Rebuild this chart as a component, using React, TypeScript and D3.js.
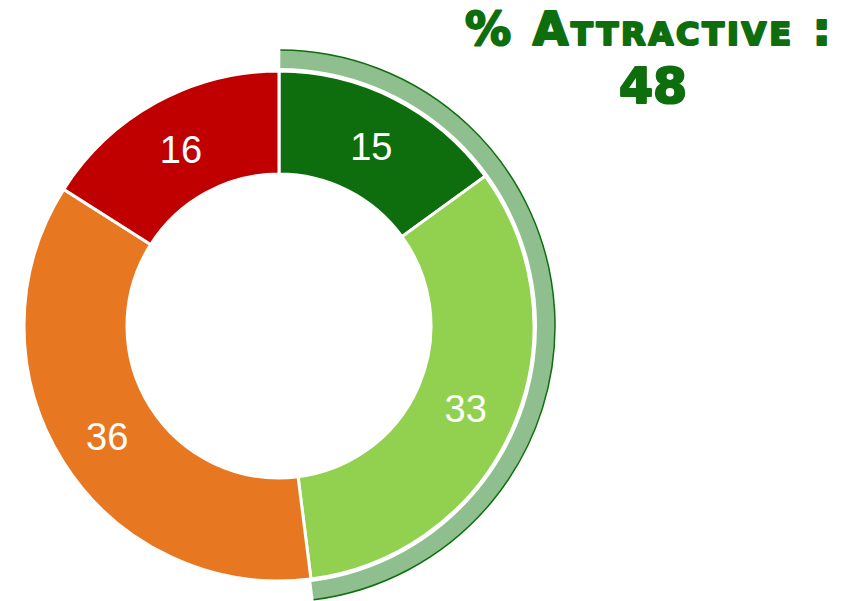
import * as d3 from "d3";

const categories = ["Very attractive", "Attractive", "Neutral", "Unattractive"];
const values = [15, 33, 36, 16];
const colors = ["#0e6e0e", "#92d050", "#e87722", "#c00000"];
const highlightCount = 2; // first two slices form "% Attractive"
const titleLine1 = "% Attractive :";

const W = 864;
const H = 601;
const cx = 279;
const cy = 326;
const rInner = 152;
const rOuter = 255;

function App() {
  const pie = d3
    .pie<number>()
    .sort(null)
    .value((d) => d);
  const arcs = pie(values);

  const arcGen = d3
    .arc<d3.PieArcDatum<number>>()
    .innerRadius(rInner)
    .outerRadius(rOuter);

  const total = d3.sum(values);
  const attractive = d3.sum(values.slice(0, highlightCount));
  const endAngle = (attractive / total) * 2 * Math.PI;

  const band = d3.arc()({
    innerRadius: 258,
    outerRadius: 276,
    startAngle: 0.005,
    endAngle: endAngle,
  } as any);
  const bandEdge = d3.arc()({
    innerRadius: 276,
    outerRadius: 276,
    startAngle: 0.005,
    endAngle: endAngle,
  } as any);

  return (
    <svg
      width={W}
      height={H}
      style={{ position: "absolute", left: 0, top: 0, background: "#fff" }}
    >
      <g transform={`translate(${cx},${cy})`}>
        <path d={band || ""} fill="#8fbf8f" />
        <path d={bandEdge || ""} fill="none" stroke="#0e6e0e" strokeWidth={1.5} />
        {arcs.map((a, i) => (
          <path
            key={categories[i]}
            d={arcGen(a) || ""}
            fill={colors[i]}
            stroke="#fff"
            strokeWidth={3}
          />
        ))}
        {arcs.map((a, i) => {
          const [x, y] = arcGen.centroid(a);
          return (
            <text
              key={"l" + i}
              x={x}
              y={y + 2}
              textAnchor="middle"
              dominantBaseline="central"
              fontFamily="Liberation Sans, Arial, sans-serif"
              fontSize={38}
              fill="#fff"
            >
              {a.data}
            </text>
          );
        })}
      </g>
      <g
        fontFamily="DejaVu Sans, sans-serif"
        fontWeight="bold"
        fill="#0e6e0e"
        stroke="#0e6e0e"
        strokeWidth={2.2}
        strokeLinejoin="round"
        textAnchor="middle"
      >
        <text
          x={648}
          y={45}
          fontSize={46}
          textLength={366}
          lengthAdjust="spacing"
          style={{ fontVariant: "small-caps" }}
        >
          {titleLine1}
        </text>
        <text x={653} y={103} fontSize={49}>
          {attractive}
        </text>
      </g>
    </svg>
  );
}

export default App;
